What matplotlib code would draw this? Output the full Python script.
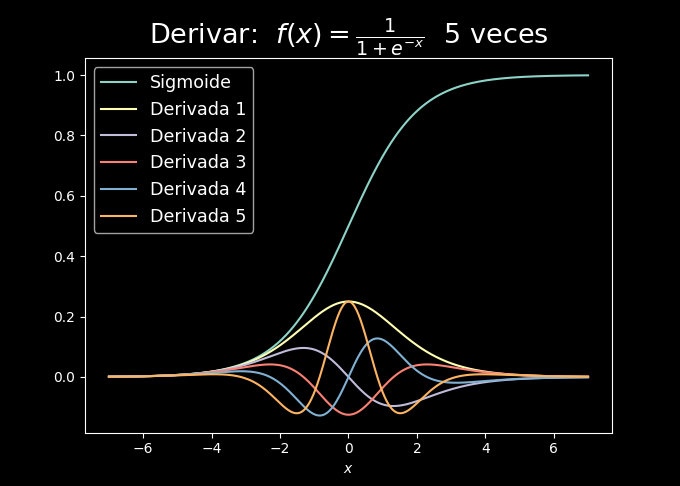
import numpy as np
import matplotlib
matplotlib.use("Agg")
import matplotlib.pyplot as plt

plt.style.use("dark_background")

labels = ["Sigmoide", "Derivada 1", "Derivada 2", "Derivada 3", "Derivada 4", "Derivada 5"]
x_min, x_max, n_points = -7, 7, 500

x = np.linspace(x_min, x_max, n_points)
s = 1 / (1 + np.exp(-x))
d1 = s * (1 - s)
d2 = d1 * (1 - 2 * s)
d3 = d1 * (1 - 6 * s + 6 * s**2)
d4 = d1 * (1 - 2 * s) * (1 - 12 * s + 12 * s**2)
d5 = d1 * (1 - 30 * s + 150 * s**2 - 240 * s**3 + 120 * s**4)
series = [s, d1, d2, d3, d4, d5]

fig, ax = plt.subplots(figsize=(6.8, 4.86), dpi=100)
for y, lab in zip(series, labels):
    ax.plot(x, y, label=lab)
ax.set_title(r"Derivar:  $f(x)=\frac{1}{1+e^{-x}}$  5 veces", fontsize=19.5)
ax.set_xlabel(r"$x$")
ax.legend(fontsize=12.6)
fig.savefig("out.png", dpi=100)
